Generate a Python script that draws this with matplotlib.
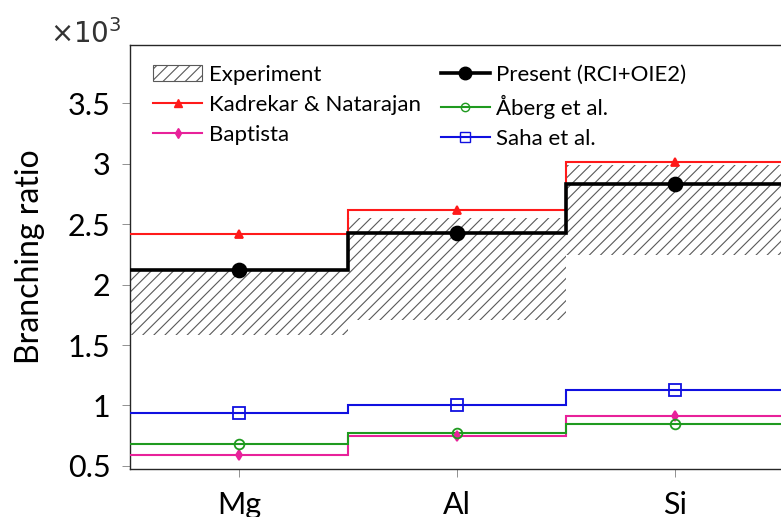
import matplotlib
matplotlib.use("Agg")
import matplotlib.pyplot as plt
from matplotlib.lines import Line2D
from matplotlib.patches import Patch
from matplotlib.ticker import FuncFormatter
import numpy as np

plt.rcParams['font.family'] = ['Lato', 'DejaVu Sans']
plt.rcParams['hatch.linewidth'] = 0.8

elements = ['Mg', 'Al', 'Si']

# branching ratios
exp_low = [1580, 1710, 2240]
exp_high = [2120, 2550, 2990]
present = [2120, 2430, 2830]
kadrekar = [2420, 2620, 3010]
aberg = [680, 770, 850]
baptista = [590, 750, 910]
saha = [940, 1000, 1130]

x = np.arange(len(elements))
edges = np.arange(len(elements) + 1) - 0.5

fig = plt.figure(figsize=(7.81, 5.17), dpi=100)
ax = fig.add_axes([130 / 781, 48 / 517, 654 / 781, 424 / 517])

ax.bar(x, np.array(exp_high) - np.array(exp_low), bottom=exp_low, width=1.0,
       facecolor='white', edgecolor='0.35', linewidth=0, hatch='///', zorder=1)

series = [
    # values, colour, marker, markersize, filled, linewidth
    (baptista, '#e8219a', 'd', 5, True, 1.5),
    (aberg, '#1f9a1f', 'o', 7, False, 1.5),
    (saha, '#1010e0', 's', 8, False, 1.5),
    (kadrekar, '#ff1a1a', '^', 6, True, 1.5),
    (present, 'black', 'o', 10, True, 2.6),
]
for vals, col, mk, ms, filled, lw in series:
    ax.stairs(vals, edges, baseline=None, color=col, linewidth=lw, zorder=3)
    ax.plot(x, vals, ls='none', marker=mk, ms=ms, color=col,
            mfc=col if filled else 'none', mew=1.3, zorder=4)

ax.set_xlim(-0.5, 2.5)
ax.set_ylim(475, 3980)
ax.set_yticks([500, 1000, 1500, 2000, 2500, 3000, 3500])
ax.yaxis.set_major_formatter(FuncFormatter(lambda v, p: '%g' % (v / 1000)))
ax.set_xticks(x)
ax.set_xticklabels(elements)
ax.tick_params(labelsize=22, length=6, width=0.6, color='0.5')
ax.tick_params(axis='x', pad=10)
ax.tick_params(axis='y', pad=8)
for s in ax.spines.values():
    s.set_linewidth(1.0)
    s.set_color('0.15')
ax.set_ylabel('Branching ratio', fontsize=23, labelpad=16)
fig.text(50 / 781, 1 - 33 / 517, r'$\times10^3$', fontsize=20, color='0.2',
         va='center', ha='left')

handles = [
    Patch(facecolor='white', edgecolor='0.35', hatch='///', linewidth=0.8),
    Line2D([], [], color='#ff1a1a', marker='^', ms=6, lw=1.5),
    Line2D([], [], color='#e8219a', marker='d', ms=5, lw=1.5),
    Line2D([], [], color='black', marker='o', ms=9, lw=2.6),
    Line2D([], [], color='#1f9a1f', marker='o', ms=6, mfc='none', lw=1.5),
    Line2D([], [], color='#1010e0', marker='s', ms=7, mfc='none', lw=1.5),
]
labels = ['Experiment', 'Kadrekar & Natarajan', 'Baptista',
          'Present (RCI+OIE2)', 'Åberg et al.', 'Saha et al.']
ax.legend(handles, labels, ncol=2, loc='upper left', frameon=False,
          fontsize=16, handlelength=2.2, handletextpad=0.3,
          columnspacing=0.9, labelspacing=0.45,
          bbox_to_anchor=(0.005, 1.0))

fig.savefig('out.png', dpi=100)
